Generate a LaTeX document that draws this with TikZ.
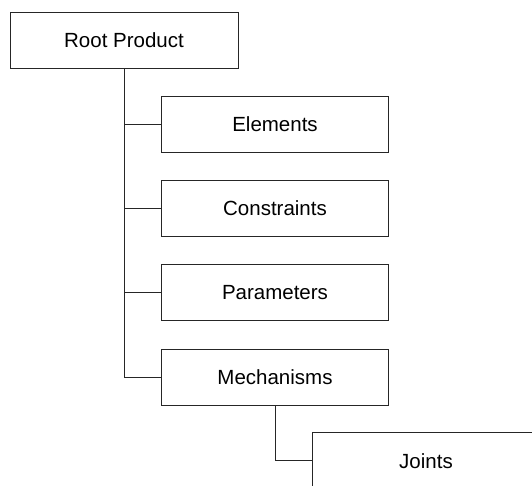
\documentclass[tikz,border=0pt]{standalone}
\usepackage{fontspec}
\setmainfont{Liberation Sans}
\begin{document}
\begin{tikzpicture}[x=1pt,y=-1pt,
  box/.style={draw=black!85, line width=0.9pt, rectangle, minimum width=227pt,
    minimum height=56pt, inner sep=0pt, font=\fontsize{20.5}{24}\selectfont},
  link/.style={draw=black!85, line width=0.9pt}]
  \useasboundingbox (0,0) rectangle (532,486);
  \clip (0,0) rectangle (532,486);
  % product tree
  \node[box, minimum width=228pt] (root) at (124,40) {Root Product};
  \node[box] (elem)  at (275,124) {Elements};
  \node[box] (cons)  at (275,208) {Constraints};
  \node[box] (param) at (275,292.3) {Parameters};
  \node[box] (mech)  at (275,377) {Mechanisms};
  \node[box] (joint) at (426,460.7) {Joints};
  % branch connectors
  \draw[link] (root.south) |- (elem.west);
  \draw[link] (root.south) |- (cons.west);
  \draw[link] (root.south) |- (param.west);
  \draw[link] (root.south) |- (mech.west);
  \draw[link] (mech.south) |- (joint.west);
\end{tikzpicture}
\end{document}
